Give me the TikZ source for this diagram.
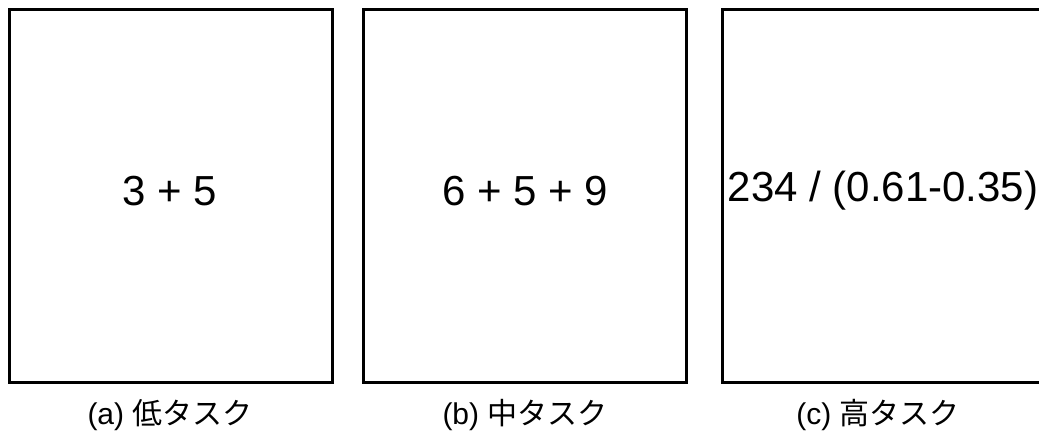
\documentclass[tikz,border=0pt]{standalone}
\usepackage{fontspec}
\setmainfont{Liberation Sans}
\newfontfamily\jpfont{Noto Sans CJK JP}
\usetikzlibrary{positioning}

\tikzset{
  taskbox/.style={rectangle,draw=black,line width=3pt,fill=none,inner sep=0pt,minimum width=323pt,minimum height=373pt},
  tasktext/.style={anchor=base,inner sep=0pt,font=\fontsize{42}{46}\selectfont},
  tasklabel/.style={anchor=base,inner sep=0pt,font=\fontsize{30}{34}\selectfont}
}

\begin{document}
\begin{tikzpicture}[x=1pt,y=1pt]
\useasboundingbox (0,0) rectangle (1039,435);
% three task panels
\node[taskbox] (low) at (171,239) {};
\node[taskbox] (mid) at (525,239) {};
\node[taskbox] (high) at (884,239) {};
% expressions
\node[tasktext] (lowexpr) at (170,229) {3 + 5};
\node[tasktext] (midexpr) at (525,229) {6 + 5 + 9};
\node[tasktext] (highexpr) at (883,233) {234 / (0.61-0.35)};
% captions
\node[tasklabel] (lowcap) at (170,10) {(a) {\jpfont 低タスク}};
\node[tasklabel] (midcap) at (525,10) {(b) {\jpfont 中タスク}};
\node[tasklabel] (highcap) at (878,10) {(c) {\jpfont 高タスク}};
\end{tikzpicture}
\end{document}
